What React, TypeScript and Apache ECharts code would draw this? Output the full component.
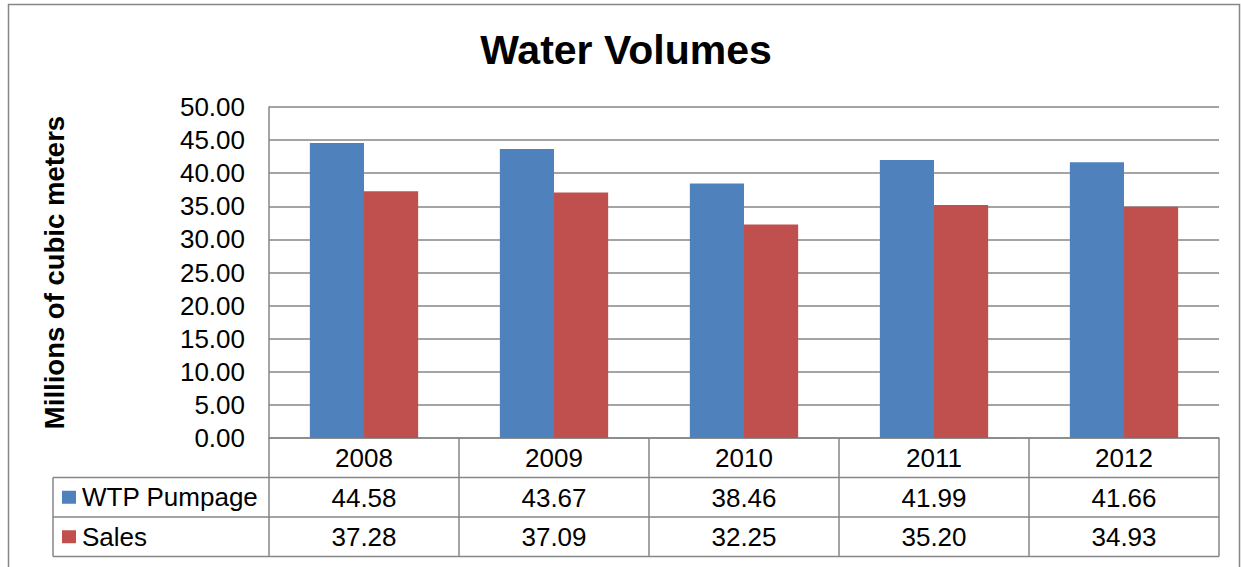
import React, { useEffect, useRef } from "react";
import * as echarts from "echarts";

const years = ["2008", "2009", "2010", "2011", "2012"];
const pumpage = [44.58, 43.67, 38.46, 41.99, 41.66];
const sales = [37.28, 37.09, 32.25, 35.2, 34.93];
const seriesNames = ["WTP Pumpage", "Sales"];
const colors = ["#4F81BD", "#C0504D"];
const yTicks = { min: 0, max: 50, interval: 5 };

const FONT = "'Liberation Sans', Arial, sans-serif";
const GRID_LEFT = 269;
const GRID_RIGHT_X = 1219;
const GRID_TOP = 107;
const GRID_BOTTOM_Y = 438;
const ROW_H = 39.5;
const LINE = "#868686";

export default function App() {
  const ref = useRef<HTMLDivElement>(null);
  useEffect(() => {
    document.body.style.margin = "0";
    const chart = echarts.init(ref.current!, null, { renderer: "svg" });
    const fmt = (v: number) => v.toFixed(2);
    const tableAxis = (data: string[], offset: number) => ({
      type: "category",
      data,
      position: "bottom",
      offset,
      gridIndex: 0,
      axisLine: { show: false },
      axisTick: { show: false },
      axisLabel: {
        fontSize: 26,
        fontFamily: FONT,
        color: "#000",
        margin: 20,
        verticalAlign: "middle",
        interval: 0,
      },
    });
    const hLines = [1, 2, 3].map((i) => ({
      type: "line",
      shape: {
        x1: 53,
        y1: GRID_BOTTOM_Y + ROW_H * i,
        x2: GRID_RIGHT_X,
        y2: GRID_BOTTOM_Y + ROW_H * i,
      },
      style: { stroke: LINE, lineWidth: 1.5 },
      z: 10,
    }));
    const legendItems = seriesNames.flatMap((name, i) => {
      const cy = GRID_BOTTOM_Y + ROW_H * (i + 1.5);
      return [
        {
          type: "rect",
          shape: { x: 62, y: cy - 6.5, width: 14, height: 13 },
          style: { fill: colors[i] },
          z: 10,
        },
        {
          type: "text",
          x: 82,
          y: cy,
          style: {
            text: name,
            font: `26px ${FONT}`,
            fill: "#000",
            verticalAlign: "middle",
            align: "left",
          },
          z: 10,
        },
      ];
    });
    chart.setOption({
      animation: false,
      backgroundColor: "#fff",
      grid: {
        left: GRID_LEFT,
        top: GRID_TOP,
        width: GRID_RIGHT_X - GRID_LEFT,
        height: GRID_BOTTOM_Y - GRID_TOP,
        containLabel: false,
      },
      xAxis: [
        {
          type: "category",
          data: years,
          position: "bottom",
          axisLine: { show: true, lineStyle: { color: LINE, width: 1.5 } },
          axisTick: {
            show: true,
            interval: 0,
            length: ROW_H * 3,
            lineStyle: { color: LINE, width: 1.5 },
          },
          axisLabel: {
            fontSize: 26,
            fontFamily: FONT,
            color: "#000",
            margin: 20,
            verticalAlign: "middle",
            interval: 0,
          },
        },
        tableAxis(pumpage.map(fmt), ROW_H),
        tableAxis(sales.map(fmt), ROW_H * 2),
      ],
      yAxis: {
        type: "value",
        min: yTicks.min,
        max: yTicks.max,
        interval: yTicks.interval,
        name: "Millions of cubic meters",
        nameLocation: "middle",
        nameRotate: 90,
        nameGap: 201,
        nameTextStyle: {
          fontSize: 27.5,
          fontWeight: "bold",
          fontFamily: FONT,
          color: "#000",
        },
        axisLine: { show: true, lineStyle: { color: LINE, width: 1.5 } },
        axisTick: { show: false },
        splitLine: { show: true, lineStyle: { color: LINE, width: 1.5 } },
        axisLabel: {
          fontSize: 26,
          fontFamily: FONT,
          color: "#000",
          margin: 24,
          formatter: (v: number) => v.toFixed(2),
        },
      },
      series: [
        {
          name: seriesNames[0],
          type: "bar",
          data: pumpage,
          xAxisIndex: 0,
          itemStyle: { color: colors[0] },
          barGap: "0%",
          barCategoryGap: "43%",
        },
        {
          name: seriesNames[1],
          type: "bar",
          data: sales,
          xAxisIndex: 0,
          itemStyle: { color: colors[1] },
          barGap: "0%",
          barCategoryGap: "43%",
        },
      ],
      graphic: [
        {
          type: "rect",
          shape: { x: 8.5, y: 4.5, width: 1231, height: 620 },
          style: { fill: "none", stroke: LINE, lineWidth: 1.5 },
          silent: true,
          z: 0,
        },
        {
          type: "text",
          x: 626,
          y: 50,
          style: {
            text: "Water Volumes",
            font: `bold 41px ${FONT}`,
            fill: "#000",
            align: "center",
            verticalAlign: "middle",
          },
        },
        {
          type: "line",
          shape: { x1: 53, y1: GRID_BOTTOM_Y + ROW_H, x2: 53, y2: GRID_BOTTOM_Y + ROW_H * 3 },
          style: { stroke: LINE, lineWidth: 1.5 },
          z: 10,
        },
        ...hLines,
        ...legendItems,
      ],
    });
    return () => chart.dispose();
  }, []);
  return <div ref={ref} style={{ width: 1241, height: 567 }} />;
}
